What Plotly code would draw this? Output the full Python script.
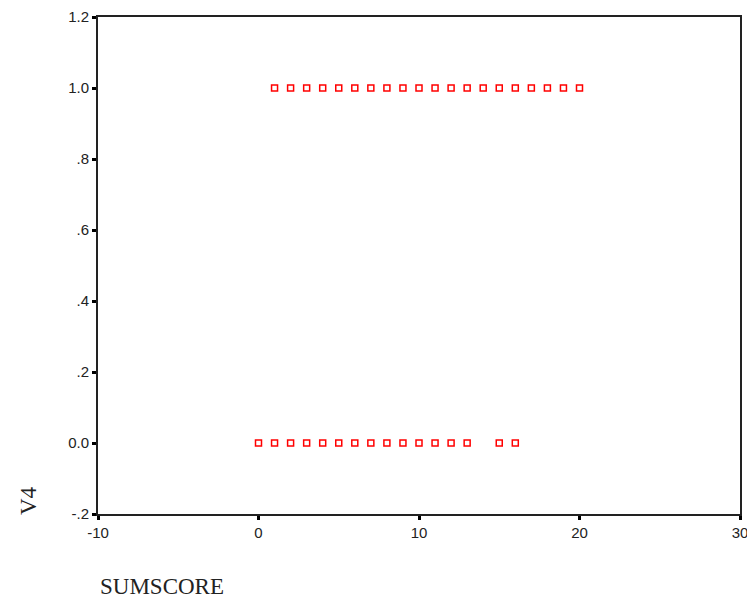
import plotly.graph_objects as go

x_v1 = list(range(1, 21))
y_v1 = [1.0] * 20
x_v0 = [0, 1, 2, 3, 4, 5, 6, 7, 8, 9, 10, 11, 12, 13, 15, 16]
y_v0 = [0.0] * 16

x_ticks = [-10, 0, 10, 20, 30]
x_ticktext = ["-10", "0", "10", "20", "30"]
y_ticks = [-0.2, 0.0, 0.2, 0.4, 0.6, 0.8, 1.0, 1.2]
y_ticktext = ["-.2", "0.0", ".2", ".4", ".6", ".8", "1.0", "1.2"]

marker = dict(symbol="square-open", size=6, color="#ff0000", line=dict(width=1.5, color="#ff0000"))

fig = go.Figure()
fig.add_trace(go.Scatter(x=x_v1 + x_v0, y=y_v1 + y_v0, mode="markers", marker=marker,
                         showlegend=False, hoverinfo="skip"))

# page body has an 8px margin, so size the figure to fit the 755x600 window
OFF = 8
W, H = 755 - OFF, 600 - OFF
l, t = 98 - OFF, 17 - OFF
pw, ph = 740 - 98, 514 - 17
r, b = W - l - pw, H - t - ph

def px_to_paper(px, py):
    return (px - OFF - l) / pw, (t + ph - (py - OFF)) / ph

tickfont = dict(family="Liberation Sans", size=15, color="#222222")
titlefont = dict(family="Liberation Serif", size=23, color="#222222")
v4x, v4y = px_to_paper(28, 501)
sx, sy = px_to_paper(98, 586)
fig.update_layout(
    width=W, height=H,
    margin=dict(l=l, r=r, t=t, b=b, autoexpand=False),
    plot_bgcolor="white", paper_bgcolor="white",
    xaxis=dict(range=[-10, 30], tickvals=x_ticks, ticktext=x_ticktext, ticks="outside",
               ticklen=4, tickwidth=3, tickcolor="black", showgrid=False, zeroline=False,
               showline=True, linecolor="#222222", linewidth=2, mirror=True, tickfont=tickfont,
               automargin=False),
    yaxis=dict(range=[-0.2, 1.2], tickvals=y_ticks, ticktext=y_ticktext, ticks="outside",
               ticklen=4, tickwidth=3, tickcolor="black", showgrid=False, zeroline=False,
               showline=True, linecolor="#222222", linewidth=2, mirror=True, tickfont=tickfont,
               automargin=False),
    annotations=[
        dict(text="V4", x=v4x, y=v4y, xref="paper", yref="paper", showarrow=False,
             textangle=-90, xanchor="center", yanchor="middle", font=titlefont),
        dict(text="SUMSCORE", x=sx, y=sy, xref="paper", yref="paper", showarrow=False,
             xanchor="left", yanchor="middle", font=titlefont),
    ],
)

fig.write_html("out.html")
